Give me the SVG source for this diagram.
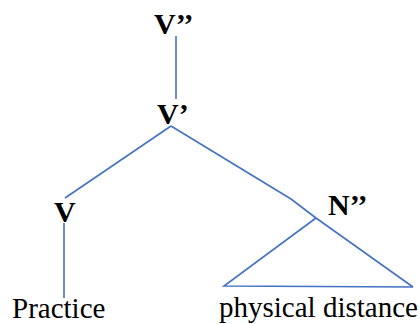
<svg xmlns="http://www.w3.org/2000/svg" width="420" height="324" viewBox="0 0 420 324">
<style>
.lbl{font-weight:bold;font-size:30px;fill:#000}
.wd{font-size:29px;fill:#000}
.edge{fill:none;stroke:#4472C4;stroke-width:1.6;stroke-linejoin:miter}
</style>
<rect width="420" height="324" fill="#fff"/>
<g id="connectors">
<line class="edge" x1="176" y1="36" x2="176" y2="99"/>
<line class="edge" x1="171" y1="126" x2="65" y2="198"/>
<polyline class="edge" points="171,126 291,199 316,218 413,287"/>
<polyline class="edge" points="316,218 224,286 413,287"/>
<line class="edge" x1="64" y1="223" x2="64" y2="298"/>
</g>
<g font-family="Liberation Serif, DejaVu Serif, serif">
<g id="node-Vbar2"><text class="lbl" x="154" y="34">V’’</text></g>
<g id="node-Vbar1"><text class="lbl" x="157" y="124">V’</text></g>
<g id="node-V"><text class="lbl" x="54" y="222">V</text></g>
<g id="node-N2"><text class="lbl" x="328" y="215">N’’</text></g>
<g id="node-practice"><text class="wd" x="12" y="318" font-size="31">Practice</text></g>
<g id="node-physical"><text class="wd" x="219" y="317">physical distance</text></g>
</g>
</svg>
